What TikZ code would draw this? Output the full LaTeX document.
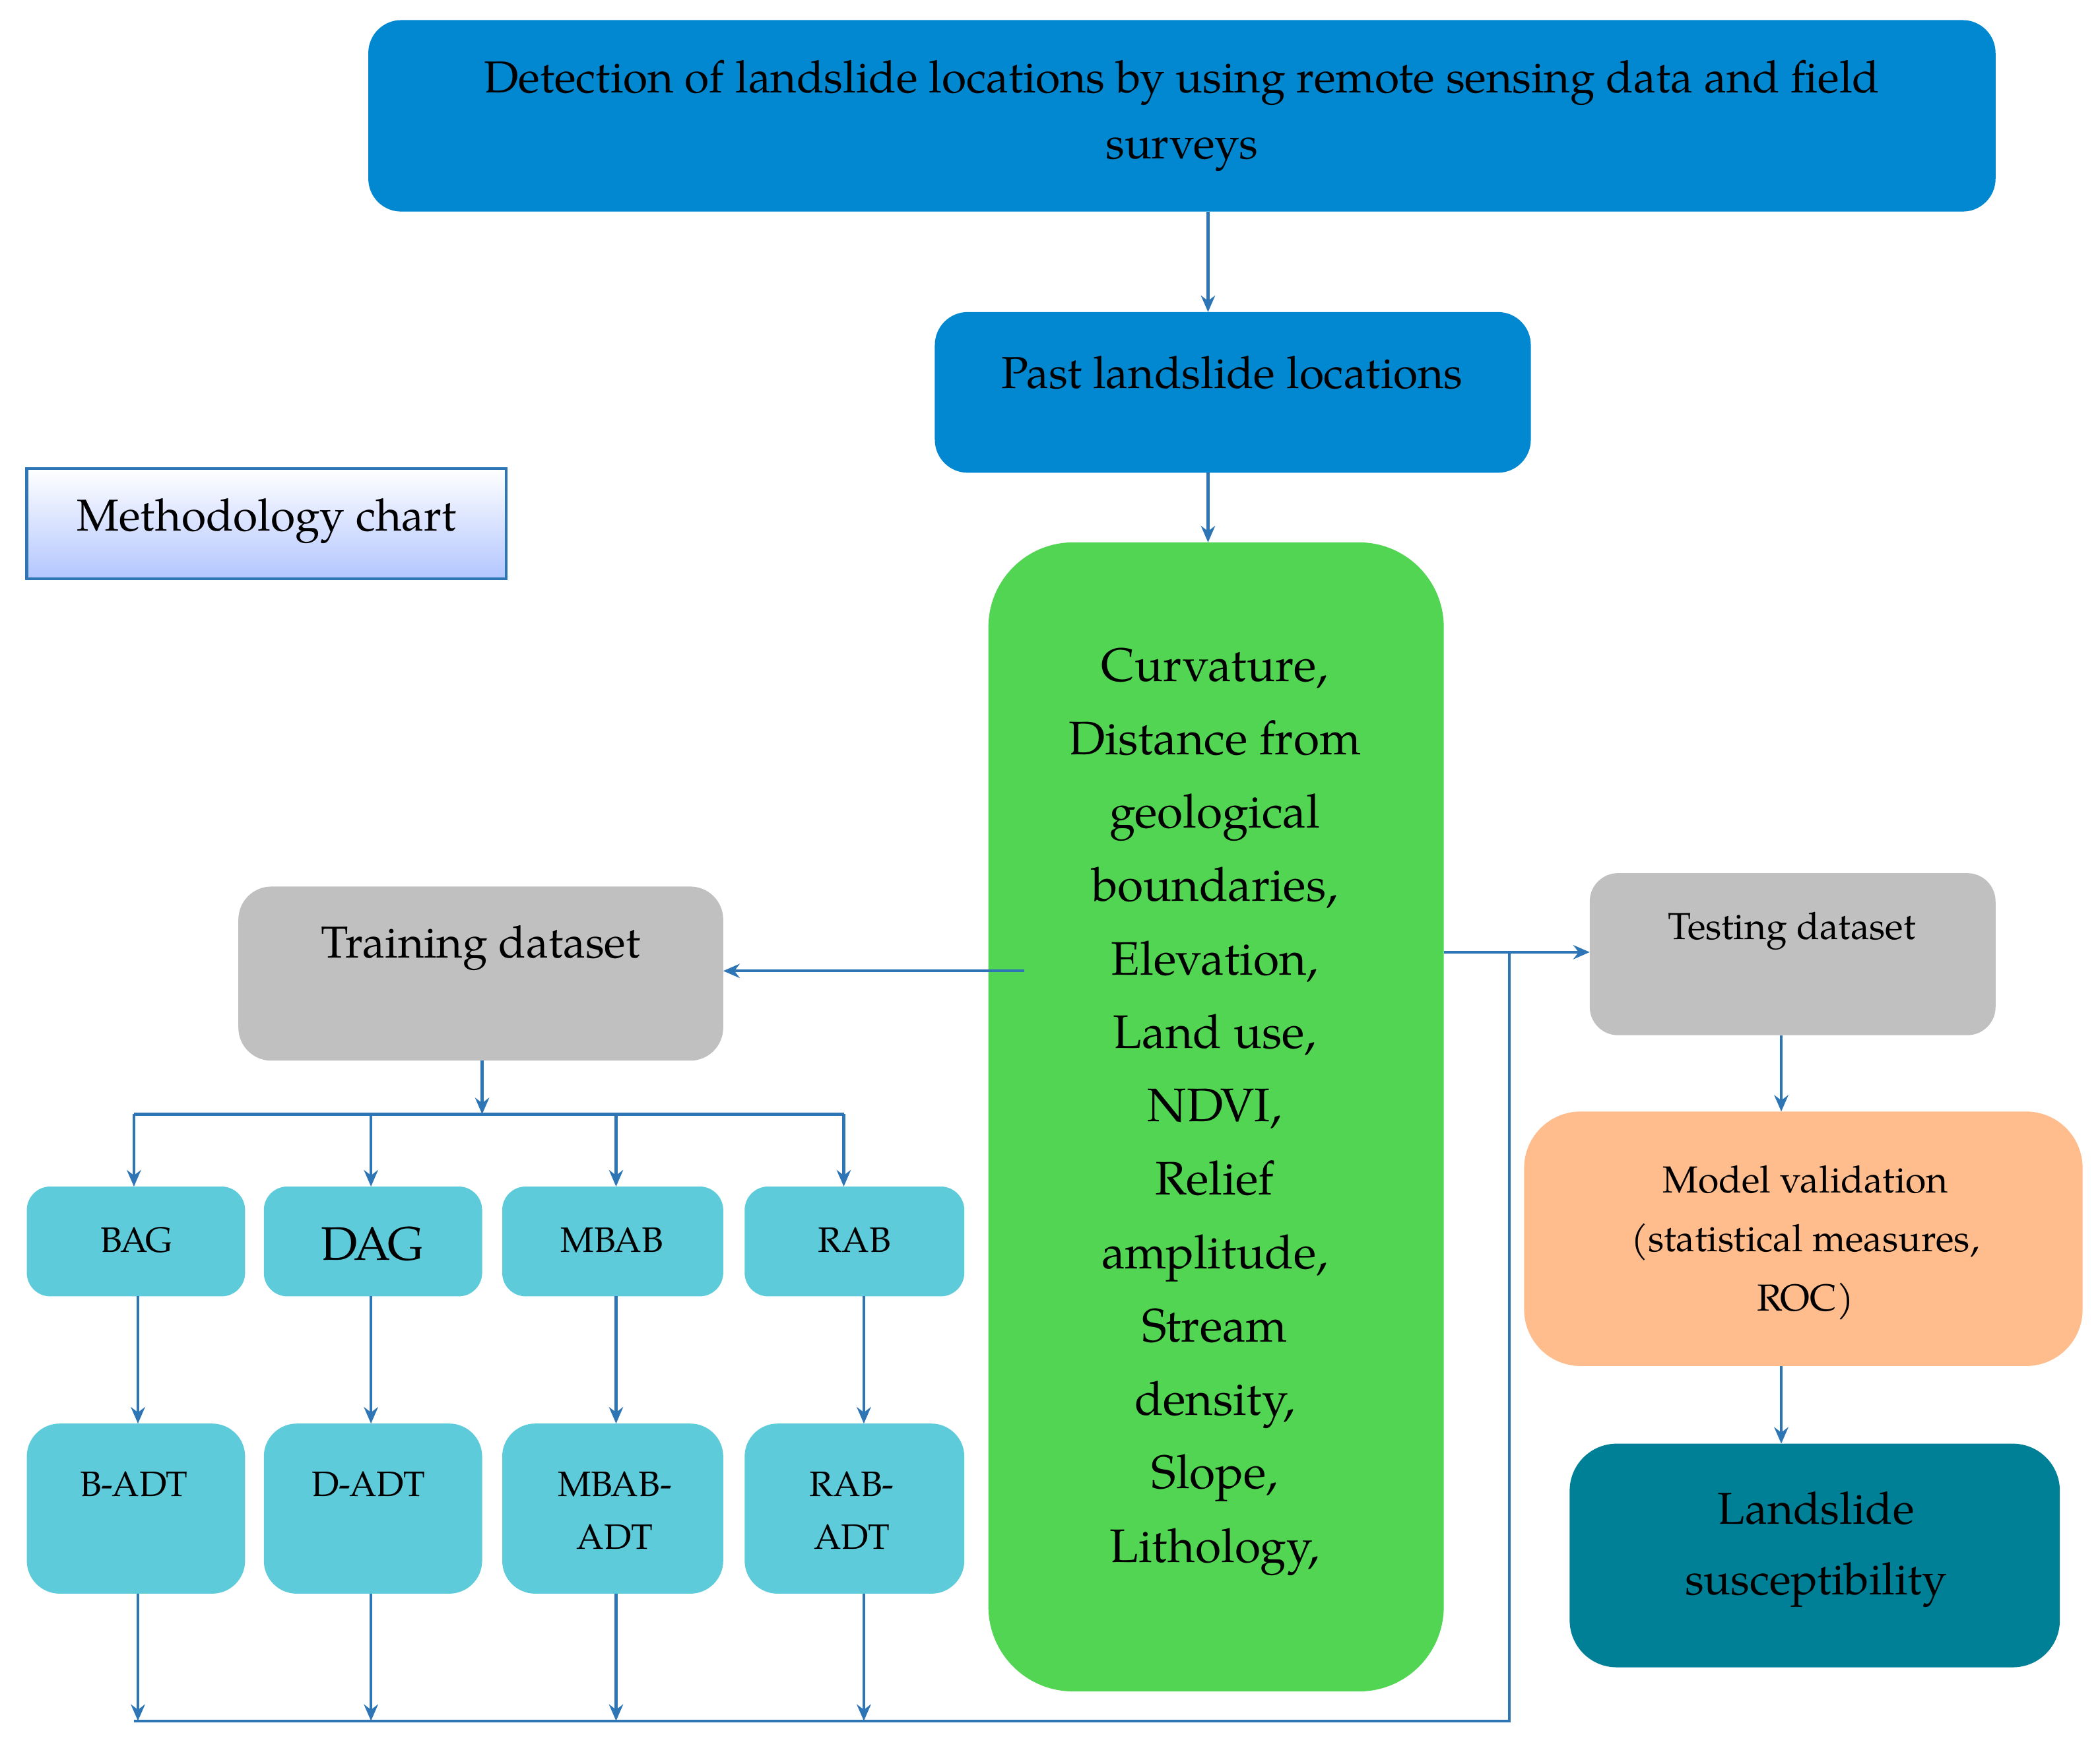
\documentclass[tikz,border=0pt]{standalone}
\usepackage{fontspec}
\setmainfont{TeX Gyre Pagella}
\usetikzlibrary{arrows.meta}
\definecolor{topblue}{RGB}{2,136,209}
\definecolor{grn}{RGB}{82,213,82}
\definecolor{gry}{RGB}{192,192,192}
\definecolor{cyn}{RGB}{94,203,219}
\definecolor{org}{RGB}{255,188,140}
\definecolor{teal2}{RGB}{0,128,150}
\definecolor{ln}{RGB}{46,117,182}
\begin{document}
\begin{tikzpicture}[x=0.02cm,y=-0.02cm,
 bx/.style={draw=none,rounded corners=12pt,align=center,inner sep=0pt},
 ar/.style={draw=ln,line width=1.2pt,-{Stealth[length=7pt,width=6pt]}},
 li/.style={draw=ln,line width=1.2pt}]
\useasboundingbox (0,0) rectangle (1568,1314);
\newcommand{\bbox}[7]{\fill[#6,rounded corners=#7] (#2,#3) rectangle (#4,#5); \coordinate (#1) at ({(#2+#4)/2},{(#3+#5)/2});}
\bbox{top}{275}{15}{1490}{158}{topblue}{14pt}
\node[align=center,font=\fontsize{19}{28}\selectfont] at (top) {Detection of landslide locations by using remote sensing data and field\\surveys};
\bbox{past}{698}{233}{1143}{353}{topblue}{14pt}
\node[font=\fontsize{19}{24}\selectfont] at (920,278) {Past landslide locations};
\shade[top color=white,bottom color=cyan!25!blue!30,draw=ln,line width=1.2pt] (20,350) rectangle (378,432);
\node[font=\fontsize{19}{24}\selectfont] (meth) at (199,389) {Methodology chart};
\bbox{grn}{738}{405}{1078}{1263}{grn}{36pt}
\node[align=center,font=\fontsize{20}{31.2}\selectfont] (gt) at (907,830) {Curvature,\\Distance from\\geological\\boundaries,\\Elevation,\\Land use,\\NDVI,\\Relief\\amplitude,\\Stream\\density,\\Slope,\\Lithology,};
\bbox{train}{178}{662}{540}{792}{gry}{14pt}
\node[font=\fontsize{19}{24}\selectfont] at (359,708) {Training dataset};
\bbox{test}{1187}{652}{1490}{773}{gry}{12pt}
\node[font=\fontsize{16}{20}\selectfont] at (1338,695) {Testing dataset};
\bbox{b1}{20}{886}{183}{968}{cyn}{10pt}
\bbox{b2}{197}{886}{360}{968}{cyn}{10pt}
\bbox{b3}{375}{886}{540}{968}{cyn}{10pt}
\bbox{b4}{556}{886}{720}{968}{cyn}{10pt}
\node[font=\fontsize{15}{18}\selectfont] at (102,926) {BAG};
\node[font=\fontsize{20}{24}\selectfont] at (278,929) {DAG};
\node[font=\fontsize{15}{18}\selectfont] at (457,926) {MBAB};
\node[font=\fontsize{15}{18}\selectfont] at (638,926) {RAB};
\bbox{c1}{20}{1063}{183}{1190}{cyn}{14pt}
\bbox{c2}{197}{1063}{360}{1190}{cyn}{14pt}
\bbox{c3}{375}{1063}{540}{1190}{cyn}{14pt}
\bbox{c4}{556}{1063}{720}{1190}{cyn}{14pt}
\node[font=\fontsize{15}{18}\selectfont] at (100,1108) {B-ADT};
\node[font=\fontsize{15}{18}\selectfont] at (275,1108) {D-ADT};
\node[align=center,font=\fontsize{15}{22.5}\selectfont] at (459,1128) {MBAB-\\ADT};
\node[align=center,font=\fontsize{15}{22.5}\selectfont] at (636,1128) {RAB-\\ADT};
\bbox{mv}{1138}{830}{1555}{1020}{org}{24pt}
\node[align=center,font=\fontsize{16}{25}\selectfont] at (1348,928) {Model validation\\(statistical measures,\\ROC)};
\bbox{ls}{1172}{1078}{1538}{1245}{teal2}{20pt}
\node[align=center,font=\fontsize{19}{30}\selectfont] at (1356,1157) {Landslide\\susceptibility};
% connectors
\coordinate (t1) at (902,158); \coordinate (t2) at (902,233);
\draw[ar] (t1) -- (t2);
\coordinate (p1) at (902,353); \coordinate (p2) at (902,405);
\draw[ar] (p1) -- (p2);
\coordinate (g1) at (765,725); \coordinate (g2) at (540,725);
\draw[ar] (g1) -- (g2);
\coordinate (g3) at (1078,711); \coordinate (g4) at (1187,711);
\draw[ar] (g3) -- (g4);
\coordinate (j1) at (1127,711); \coordinate (j2) at (1127,1285); \coordinate (j3) at (100,1285);
\draw[li] (j1) -- (j2) -- (j3);
\coordinate (tr1) at (360,792); \coordinate (tr2) at (360,832);
\draw[ar] (tr1) -- (tr2);
\coordinate (h1) at (100,832); \coordinate (h2) at (630,832);
\draw[li] (h1) -- (h2);
\foreach \x/\y in {100/100,277/277,460/460,630/630}{
 \draw[ar] (\x,832) -- (\y,886);}
\foreach \x in {103,277,460,645}{
 \draw[ar] (\x,968) -- (\x,1063);
 \draw[ar] (\x,1190) -- (\x,1285);}
\coordinate (s1) at (1330,773); \coordinate (s2) at (1330,830);
\draw[ar] (s1) -- (s2);
\coordinate (m1) at (1330,1020); \coordinate (m2) at (1330,1078);
\draw[ar] (m1) -- (m2);
\end{tikzpicture}
\end{document}
